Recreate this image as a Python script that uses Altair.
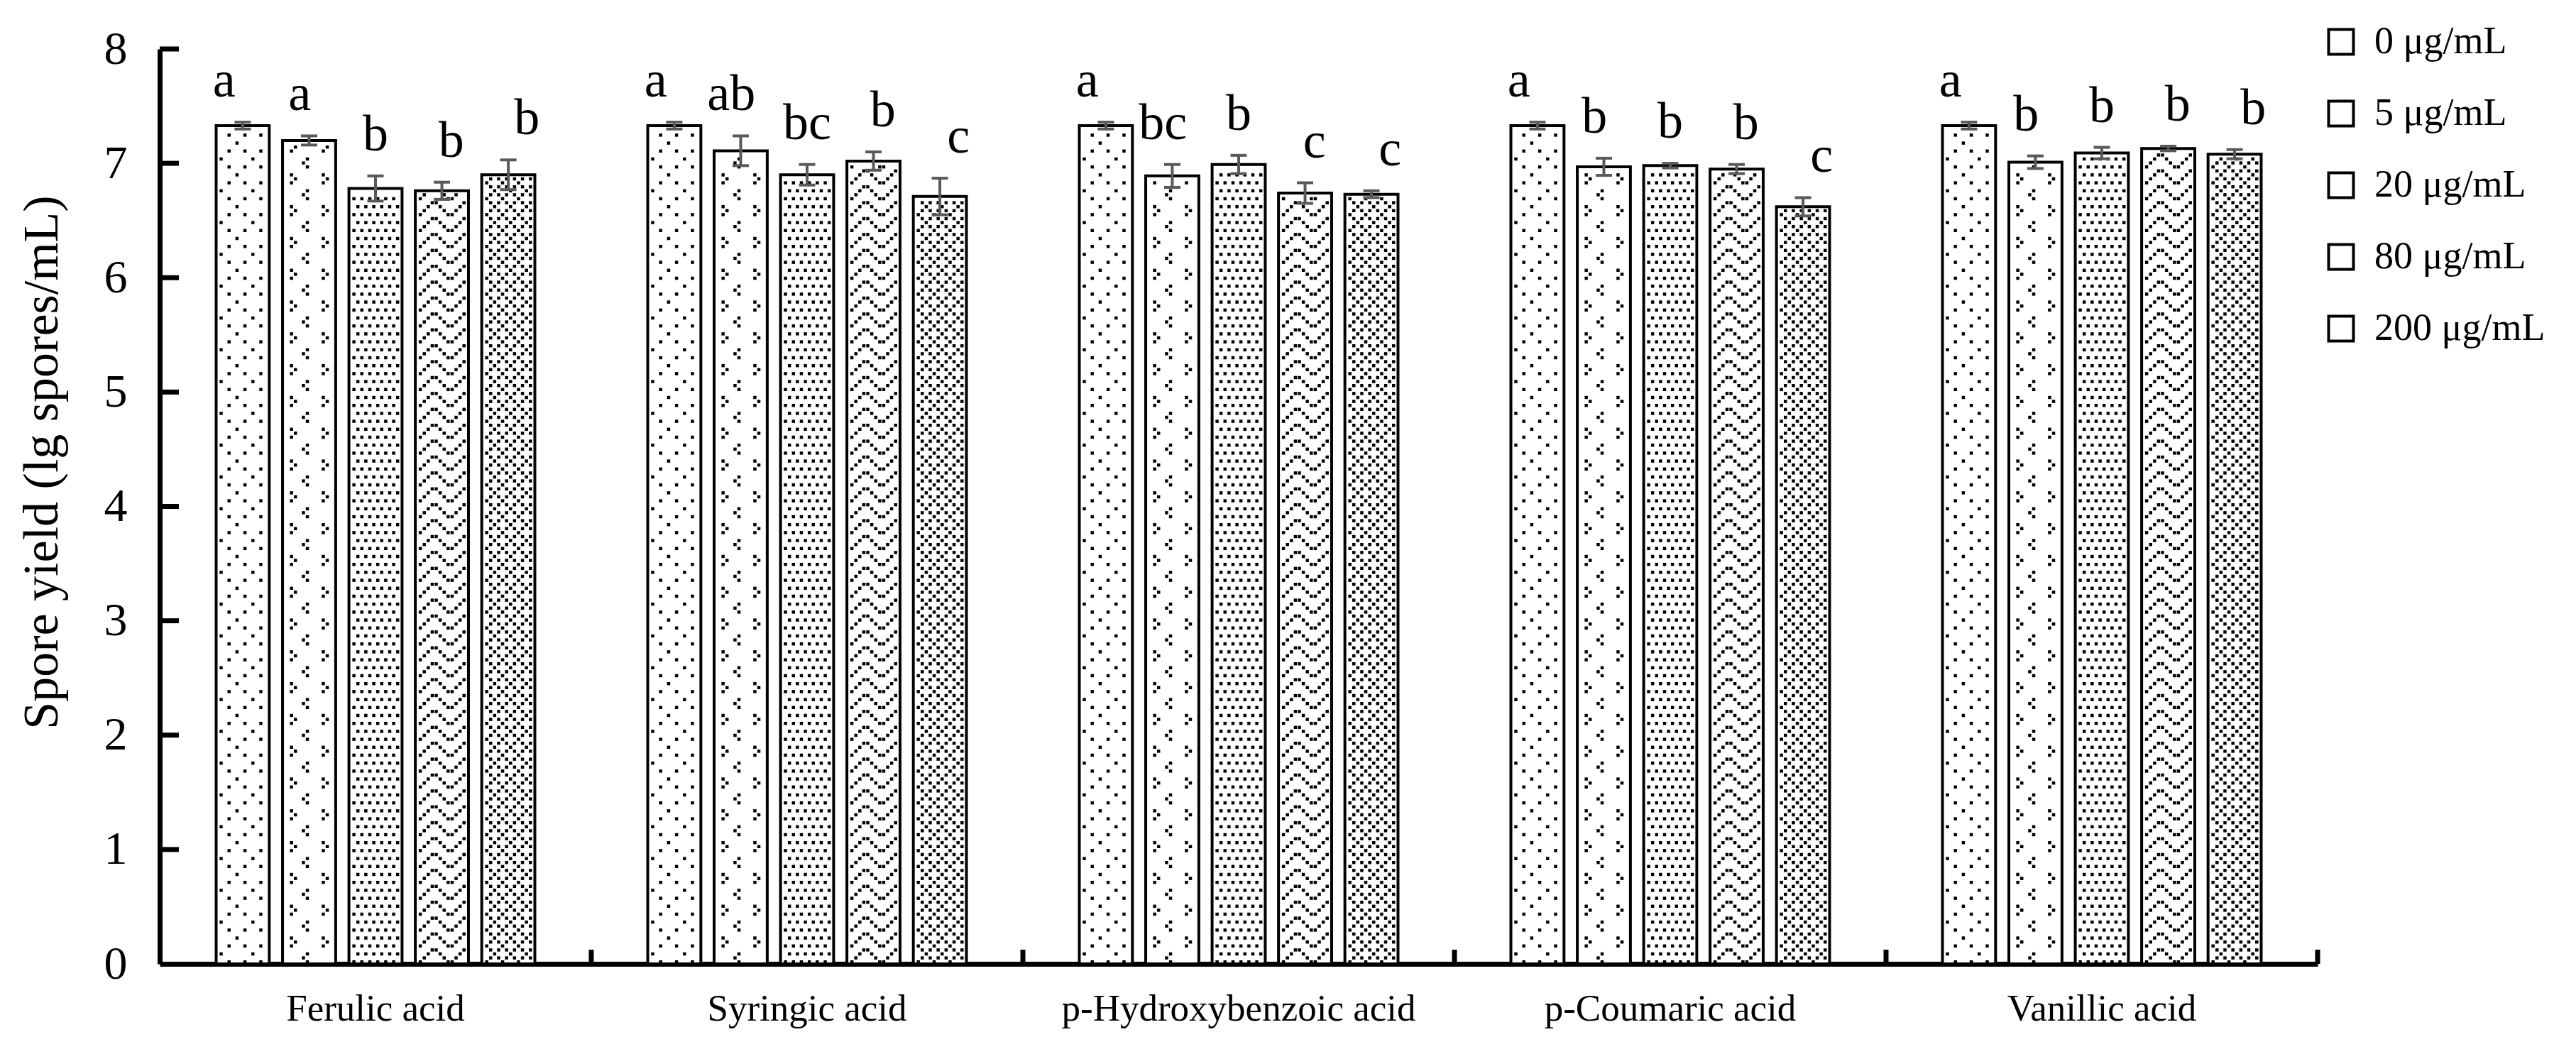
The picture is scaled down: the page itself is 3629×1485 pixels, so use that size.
import altair as alt
import pandas as pd

# ---------------- data ----------------
acids = ["Ferulic acid", "Syringic acid", "p-Hydroxybenzoic acid", "p-Coumaric acid", "Vanillic acid"]
concs = ["0 μg/mL", "5 μg/mL", "20 μg/mL", "80 μg/mL", "200 μg/mL"]

ferulic_mean = [7.33, 7.20, 6.78, 6.76, 6.90]
syringic_mean = [7.33, 7.11, 6.90, 7.02, 6.71]
hydroxy_mean = [7.33, 6.89, 6.99, 6.74, 6.73]
coumaric_mean = [7.33, 6.97, 6.98, 6.95, 6.62]
vanillic_mean = [7.33, 7.01, 7.09, 7.13, 7.08]

ferulic_sd = [0.03, 0.04, 0.11, 0.075, 0.13]
syringic_sd = [0.03, 0.13, 0.09, 0.08, 0.16]
hydroxy_sd = [0.03, 0.10, 0.08, 0.09, 0.03]
coumaric_sd = [0.03, 0.075, 0.02, 0.04, 0.08]
vanillic_sd = [0.03, 0.055, 0.05, 0.02, 0.04]

ferulic_letters = ["a", "a", "b", "b", "b"]
syringic_letters = ["a", "ab", "bc", "b", "c"]
hydroxy_letters = ["a", "bc", "b", "c", "c"]
coumaric_letters = ["a", "b", "b", "b", "c"]
vanillic_letters = ["a", "b", "b", "b", "b"]

y_ticks = [0, 1, 2, 3, 4, 5, 6, 7, 8]

means = [ferulic_mean, syringic_mean, hydroxy_mean, coumaric_mean, vanillic_mean]
sds = [ferulic_sd, syringic_sd, hydroxy_sd, coumaric_sd, vanillic_sd]
letters = [ferulic_letters, syringic_letters, hydroxy_letters, coumaric_letters, vanillic_letters]

rows = []
for ai, acid in enumerate(acids):
    for ci, conc in enumerate(concs):
        m, s = means[ai][ci], sds[ai][ci]
        rows.append({"acid": acid, "conc": conc, "ci": ci, "mean": m,
                     "lo": m - s, "hi": m + s, "letter": letters[ai][ci]})
df = pd.DataFrame(rows)

# ---------------- layout / style ----------------
SERIF = "Liberation Serif"
YTITLE = "Spore yield (lg spores/mL)"
W, H = 3040, 1289
BAND = W / len(acids)
PI, PO = 0.2, 0.85
STEP = BAND / (len(concs) - PI + 2 * PO)
START = PO * STEP
U = H / 8.0          # px per data unit
CELL = 5.6           # pattern pixel size
ERR = "#595959"

# 8x8 fill patterns (style only)
P0 = ["..1...1.", "........", "1.......", "........", "..1...1.", "........", "....1...", "........"]
P5 = [".....1..", "....1...", ".....1..", "........", ".1......", "..1.....", ".1......", "........"]
P20 = ["1.1.1.1.", "........", ".1.1.1.1", "........"] * 2
P80 = ["1......1", ".1....1.", "..1..1..", "...11..."] * 2
P200 = ["1...1...", ".1.1.1.1", "..1...1.", ".1.1.1.1"] * 2
pats = ["".join(p) for p in (P0, P5, P20, P80, P200)]
pat_expr = "[" + ",".join("'" + p + "'" for p in pats) + "]"

xscale = alt.Scale(domain=acids, paddingInner=0, paddingOuter=0)
yscale = alt.Scale(domain=[0, 8], nice=False, zero=True)
xoff_scale = alt.Scale(domain=concs, paddingInner=PI, paddingOuter=PO)

x_main = alt.X("acid:N", sort=acids, scale=xscale, title=None,
               axis=alt.Axis(labelAngle=0, labelFont=SERIF, labelFontSize=53,
                             labelColor="black", labelPadding=37, ticks=False,
                             domainColor="black", domainWidth=7, labelLimit=0))
x_plain = alt.X("acid:N", sort=acids, scale=xscale, title=None)
xoff = alt.XOffset("conc:N", sort=concs, scale=xoff_scale)


def yplain(field):
    return alt.Y(field, scale=yscale, title=YTITLE)


base = alt.Chart(df)

bars = base.mark_bar(stroke="black", strokeWidth=4).encode(
    x=x_main,
    xOffset=xoff,
    y=alt.Y("mean:Q", scale=yscale, title=YTITLE,
            axis=alt.Axis(values=y_ticks, format="d",
                          labelFont=SERIF, labelFontSize=66, labelColor="black",
                          labelPadding=46, ticks=False, domainColor="black", domainWidth=7,
                          grid=False, titleFont=SERIF, titleFontSize=70,
                          titleFontWeight="normal", titleColor="black",
                          titleX=-166, titleY=582, titleAlign="center",
                          titleBaseline="middle", titleAngle=270)),
    color=alt.Color("conc:N", sort=concs,
                    scale=alt.Scale(domain=concs, range=["#ffffff"] * 5),
                    legend=alt.Legend(title=None, orient="none", legendX=3046, legendY=-37,
                                      symbolType="square", symbolSize=1225,
                                      symbolStrokeColor="black", symbolStrokeWidth=4,
                                      labelFont=SERIF, labelFontSize=54, labelColor="black",
                                      labelOffset=20, rowPadding=47, padding=0,
                                      labelLimit=0)),
)

dots = base.transform_calculate(
    ra=f"sequence(0, floor((datum.mean*{U} - 4.5)/{CELL} - 0.5) + 1)"
).transform_flatten(["ra"], as_=["r"]).transform_calculate(
    ca="sequence(0, 12)"
).transform_flatten(["ca"], as_=["c"]).transform_calculate(
    pos="(datum.r % 8)*8 + (datum.c % 8)"
).transform_filter(
    f"substring({pat_expr}[datum.ci], datum.pos, datum.pos + 1) == '1'"
).transform_calculate(
    yv=f"(datum.r + 0.5)*{CELL}/{U}",
    xo=f"{START} + datum.ci*{STEP} + 7 + datum.c*{CELL}",
).mark_square(size=20, color="black", opacity=1).encode(
    x=x_plain,
    xOffset=alt.XOffset("xo:Q", scale=alt.Scale(domain=[0, BAND], range=[0, BAND])),
    y=yplain("yv:Q"),
)

err = base.mark_rule(color=ERR, strokeWidth=4).encode(
    x=x_plain, xOffset=xoff, y=yplain("lo:Q"), y2="hi:Q")
cap_hi = base.mark_tick(color=ERR, thickness=4, size=23, opacity=1).encode(
    x=x_plain, xOffset=xoff, y=yplain("hi:Q"))
cap_lo = base.mark_tick(color=ERR, thickness=4, size=23, opacity=1).encode(
    x=x_plain, xOffset=xoff, y=yplain("lo:Q"))

labels = base.mark_text(font=SERIF, fontSize=72, baseline="alphabetic", dy=-36,
                        color="black").encode(
    x=x_plain, xOffset=xoff, y=yplain("hi:Q"), text="letter:N")

yt = alt.Chart(pd.DataFrame({"v": y_ticks[1:]})).mark_rule(color="black", strokeWidth=7).encode(
    y=yplain("v:Q"), x=alt.value(0), x2=alt.value(27))

xt = alt.Chart(pd.DataFrame({"acid": acids})).mark_rule(color="black", strokeWidth=7).encode(
    x=alt.X("acid:N", sort=acids, scale=xscale, title=None, bandPosition=1),
    y=alt.value(H - 20), y2=alt.value(H))

chart = alt.layer(bars, dots, err, cap_hi, cap_lo, labels, yt, xt).resolve_scale(
    xOffset="independent"
).properties(
    width=W, height=H,
    padding={"left": 217, "top": 61, "right": 350, "bottom": 100},
    autosize=alt.AutoSizeParams(type="none"),
).configure_view(stroke=None).configure_axis(grid=False)

chart.save("out.html", embed_options={"renderer": "svg", "actions": False})
